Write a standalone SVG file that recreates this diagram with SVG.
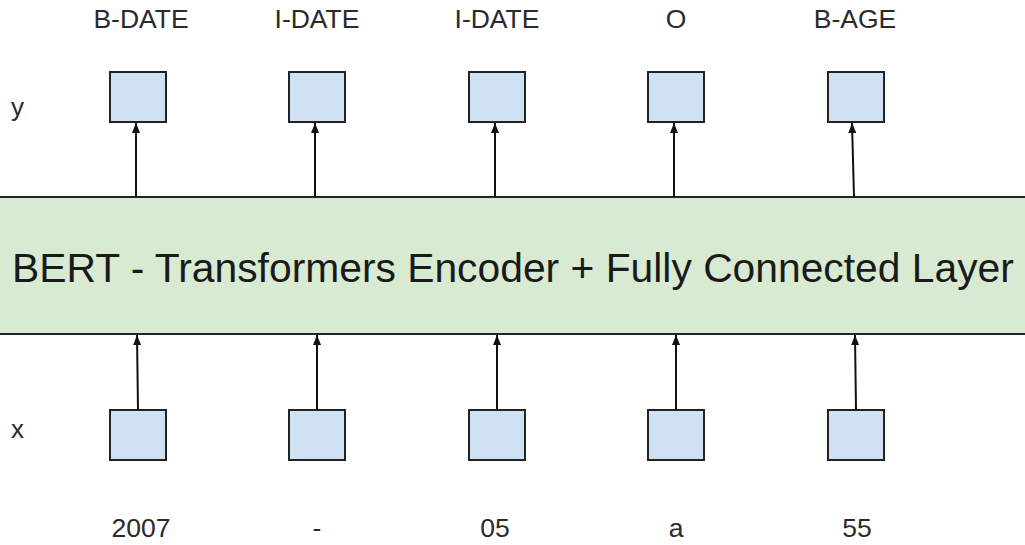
<svg xmlns="http://www.w3.org/2000/svg" width="1025" height="545" viewBox="0 0 1025 545">
  <style>
    .lbl { font-family: "Liberation Sans", Arial, sans-serif; font-size: 26.5px; fill: #2a2a2a; text-anchor: middle; }
    .axis { font-family: "Liberation Sans", Arial, sans-serif; font-size: 26px; fill: #2a2a2a; }
    .big { font-family: "Liberation Sans", Arial, sans-serif; font-size: 40.8px; fill: #1a1a1a; }
    .tok { fill: #cfe2f3; stroke: #222; stroke-width: 2; }
    .band { fill: #d9ead3; stroke: #222; stroke-width: 2; }
    .edge { stroke: #111; stroke-width: 2; fill: none; marker-end: url(#head); }
  </style>
  <defs>
    <marker id="head" markerWidth="10" markerHeight="8" refX="10" refY="4" orient="auto" markerUnits="userSpaceOnUse" viewBox="0 0 10 8">
      <path d="M0,0 L10,4 L0,8 Z" fill="#111"/>
    </marker>
  </defs>
  <rect width="1025" height="545" fill="#ffffff"/>

  <!-- axis labels -->
  <text class="axis" x="11" y="116">y</text>
  <text class="axis" x="11" y="438">x</text>

  <!-- encoder layer -->
  <g id="encoder">
    <rect class="band" x="-10" y="197" width="1050" height="137"/>
    <text class="big" x="12" y="282">BERT - Transformers Encoder + Fully Connected Layer</text>
  </g>

  <!-- output tags -->
  <g id="y1"><rect class="tok" x="110" y="72" width="56" height="50"/><text class="lbl" x="141" y="28">B-DATE</text></g>
  <g id="y2"><rect class="tok" x="289" y="72" width="56" height="50"/><text class="lbl" x="317" y="28">I-DATE</text></g>
  <g id="y3"><rect class="tok" x="469" y="72" width="56" height="50"/><text class="lbl" x="497" y="28">I-DATE</text></g>
  <g id="y4"><rect class="tok" x="648" y="72" width="56" height="50"/><text class="lbl" x="676" y="28">O</text></g>
  <g id="y5"><rect class="tok" x="828" y="72" width="56" height="50"/><text class="lbl" x="855" y="28">B-AGE</text></g>

  <!-- input tokens -->
  <g id="x1"><rect class="tok" x="110" y="410" width="56" height="50"/><text class="lbl" x="141" y="537">2007</text></g>
  <g id="x2"><rect class="tok" x="289" y="410" width="56" height="50"/><text class="lbl" x="317" y="537">-</text></g>
  <g id="x3"><rect class="tok" x="469" y="410" width="56" height="50"/><text class="lbl" x="495" y="537">05</text></g>
  <g id="x4"><rect class="tok" x="648" y="410" width="56" height="50"/><text class="lbl" x="676" y="537">a</text></g>
  <g id="x5"><rect class="tok" x="828" y="410" width="56" height="50"/><text class="lbl" x="857" y="537">55</text></g>

  <!-- connectors -->
  <g id="connectors">
    <line class="edge" x1="136" y1="197" x2="136" y2="123"/>
    <line class="edge" x1="315" y1="197" x2="315" y2="123"/>
    <line class="edge" x1="495" y1="197" x2="495" y2="123"/>
    <line class="edge" x1="674" y1="197" x2="674" y2="123"/>
    <line class="edge" x1="854" y1="197" x2="852" y2="123"/>

    <line class="edge" x1="138" y1="410" x2="137" y2="335"/>
    <line class="edge" x1="317" y1="410" x2="317" y2="335"/>
    <line class="edge" x1="497" y1="410" x2="497" y2="335"/>
    <line class="edge" x1="676" y1="410" x2="676" y2="335"/>
    <line class="edge" x1="856" y1="410" x2="855" y2="335"/>
  </g>
</svg>
